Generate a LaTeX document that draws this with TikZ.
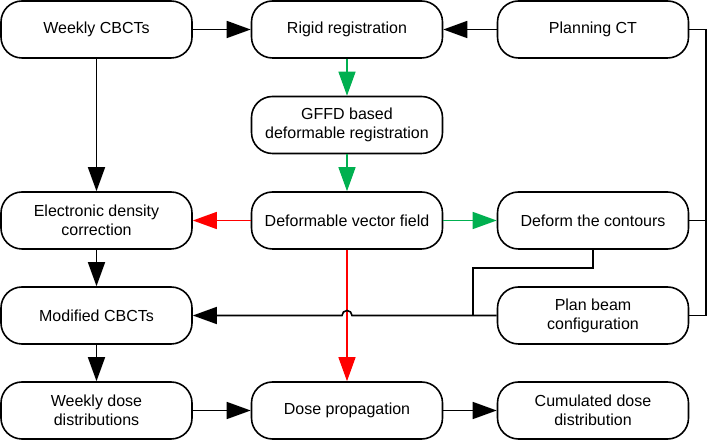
\documentclass[tikz,border=0pt]{standalone}
\usepackage{fontspec}
\setmainfont{Liberation Sans}
\usetikzlibrary{arrows.meta}
\definecolor{ggreen}{RGB}{0,176,80}
\definecolor{rred}{RGB}{255,0,0}
\begin{document}
\begin{tikzpicture}[x=1pt,y=1pt,
  box/.style={draw, line width=1.6pt, rounded corners=21pt, minimum width=191pt, minimum height=57pt,
    align=center, font=\fontsize{16}{19}\selectfont, inner sep=2pt},
  blk/.style={line width=1.6pt, -{Triangle[length=24pt,width=17pt]}},
  grn/.style={draw=ggreen, line width=1.4pt, -{Triangle[length=24pt,width=17pt]}, fill=ggreen},
  redd/.style={draw=rred, line width=1.4pt, -{Triangle[length=24pt,width=17pt]}, fill=rred},
  plain/.style={line width=1.6pt}]
\fill[white] (0,0) rectangle (709,441);
\useasboundingbox (0,0) rectangle (709,441);
\node[box] (wc) at (96.5,411.5) {Weekly CBCTs};
\node[box] (rr) at (347,411.5) {Rigid registration};
\node[box] (pct) at (593,411.5) {Planning CT};
\node[box] (gffd) at (347,316) {GFFD based\\deformable registration};
\node[box] (edc) at (96.5,220.5) {Electronic density\\correction};
\node[box] (dvf) at (347,220.5) {Deformable vector field};
\node[box] (dc) at (593,220.5) {Deform the contours};
\node[box] (mc) at (96.5,125.5) {Modified CBCTs};
\node[box] (pbc) at (593,125.5) {Plan beam\\configuration};
\node[box] (wdd) at (96.5,30.5) {Weekly dose\\distributions};
\node[box] (dp) at (347,30.5) {Dose propagation};
\node[box] (cdd) at (593,30.5) {Cumulated dose\\distribution};
\coordinate (bt) at (706,411.5);
\coordinate (bm) at (706,220.5);
\coordinate (bb) at (706,125.5);
\coordinate (k1) at (593,173);
\coordinate (k2) at (473,173);
\coordinate (k3) at (473,125.5);
\coordinate (j1) at (352,125.5);
% black arrows
\draw[blk] (wc) -- (rr);
\draw[blk] (pct) -- (rr);
\draw[blk] (wc) -- (edc);
\draw[blk] (edc) -- (mc);
\draw[blk] (mc) -- (wdd);
\draw[blk] (wdd) -- (dp);
\draw[blk] (dp) -- (cdd);
% green
\draw[grn] (rr) -- (gffd);
\draw[grn] (gffd) -- (dvf);
\draw[grn] (dvf) -- (dc);
% red
\draw[redd] (dvf) -- (edc);
\draw[redd] (dvf) -- (dp);
% right bus
\draw[plain] (pct.east) -- (bt) -- (bb) -- (pbc.east);
\draw[plain] (dc.east) -- (bm);
\draw[plain] (dc.south) -- (k1) -- (k2) -- (k3);
\draw[blk] (pbc.west) -- (j1) arc[start angle=0,end angle=180,radius=5pt] -- (mc.east);
\end{tikzpicture}
\end{document}
